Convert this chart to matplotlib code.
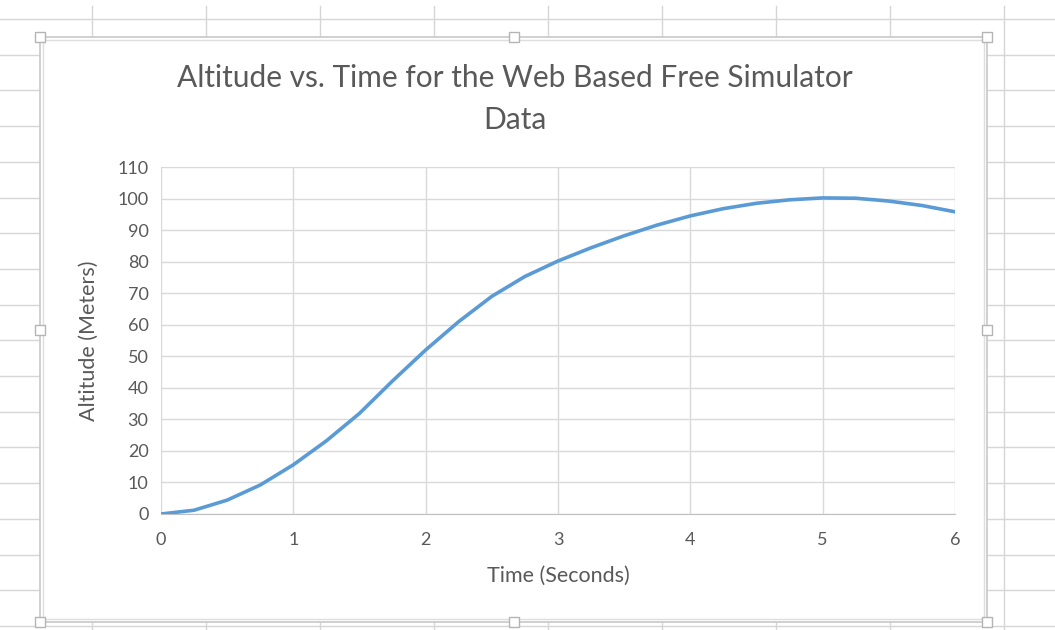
import matplotlib
matplotlib.use('Agg')
import matplotlib.pyplot as plt
from matplotlib.patches import Rectangle

# --- Dados ---
tempo = [0, 0.25, 0.5, 0.75, 1.0, 1.25, 1.5, 1.75, 2.0, 2.25, 2.5, 2.75,
         3.0, 3.25, 3.5, 3.75, 4.0, 4.25, 4.5, 4.75, 5.0, 5.25, 5.5, 5.75, 6.0]
altitude = [0, 1.2, 4.4, 9.2, 15.6, 23.2, 31.9, 42.2, 52.0, 61.0, 69.0, 75.3,
            80.2, 84.4, 88.2, 91.6, 94.5, 96.8, 98.5, 99.6, 100.2, 100.1, 99.2, 97.8, 95.8]
x_ticks = [0, 1, 2, 3, 4, 5, 6]
y_ticks = list(range(0, 111, 10))

titulo = "Altitude vs. Time for the Web Based Free Simulator\nData"
x_label = "Time (Seconds)"
y_label = "Altitude (Meters)"

W, H = 1055, 630
plt.rcParams['font.family'] = ['Lato', 'DejaVu Sans']
fig = plt.figure(figsize=(W / 100, H / 100), dpi=100)

# --- Fundo da folha de cálculo (em píxeis) ---
bg = fig.add_axes([0, 0, 1, 1], zorder=0)
bg.set_xlim(0, W)
bg.set_ylim(H, 0)
bg.axis('off')
cor_grelha = '#d6d6d6'
for xc in [92, 206, 320, 434, 548, 662, 776, 890, 1004]:
    bg.plot([xc, xc], [6, H], color=cor_grelha, lw=1)
for yr in [19, 55, 90, 126, 162, 198, 233, 269, 305, 340, 376, 412, 447,
           483, 519, 555, 590, 626]:
    bg.plot([0, W], [yr, yr], color=cor_grelha, lw=1)

# caixa do gráfico com moldura dupla
x0, y0, x1, y1 = 40, 37, 987, 622
bg.add_patch(Rectangle((x0, y0), x1 - x0, y1 - y0, facecolor='white',
                       edgecolor='#c8c8c8', lw=1.2, zorder=2))
bg.add_patch(Rectangle((x0 + 3, y0 + 3), x1 - x0 - 6, y1 - y0 - 6,
                       facecolor='none', edgecolor='#dedede', lw=1, zorder=2))
for hx, hy in [(x0, y0), ((x0 + x1) / 2, y0), (x1, y0), (x0, (y0 + y1) / 2),
               (x1, (y0 + y1) / 2), (x0, y1), ((x0 + x1) / 2, y1), (x1, y1)]:
    bg.add_patch(Rectangle((hx - 5, hy - 5), 10, 10, facecolor='white',
                           edgecolor='#b4b4b4', lw=1, zorder=3))

# --- Gráfico ---
ax = fig.add_axes([161 / W, 1 - 514 / H, (955 - 161) / W, (514 - 167) / H], zorder=1)
ax.set_facecolor('white')
ax.plot(tempo, altitude, color='#5B9BD5', lw=2.6, solid_capstyle='round',
        solid_joinstyle='round', zorder=3)

ax.set_xlim(0, 6)
ax.set_ylim(0, 110)
ax.set_xticks(x_ticks)
ax.set_yticks(y_ticks)
ax.grid(True, color='#d9d9d9', lw=1)
ax.set_axisbelow(True)
for lado in ['left', 'right', 'top']:
    ax.spines[lado].set_visible(False)
ax.spines['bottom'].set_color('#bfbfbf')
ax.tick_params(length=0, colors='#595959', labelsize=13)
ax.tick_params(axis='x', pad=13)
ax.tick_params(axis='y', pad=9)

ax.set_xlabel(x_label, fontsize=15.5, color='#595959', labelpad=13)
ax.set_ylabel(y_label, fontsize=15.5, color='#595959', labelpad=13)

fig.text(515 / W, 1 - 99 / H, titulo, ha='center', va='center', fontsize=21.5,
         color='#595959', linespacing=1.6)

plt.savefig("out.png", dpi=100)
